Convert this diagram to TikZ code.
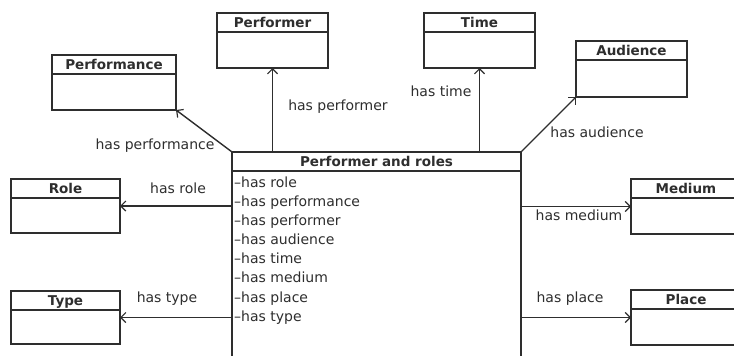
\documentclass[tikz,border=0pt]{standalone}
\usepackage{fontspec}
\setmainfont{DejaVu Sans}
\usetikzlibrary{arrows.meta}

\colorlet{ink}{black!82}

\tikzset{
  classbox/.style={draw=ink, line width=1.3pt, rectangle, inner sep=0pt, outer sep=0pt},
  classline/.style={draw=ink, line width=1.3pt},
  classtitle/.style={text=ink, inner sep=0pt, text height=10pt, text depth=0pt,
    font=\fontsize{13.5}{16}\selectfont\bfseries},
  attr/.style={text=ink, inner sep=0pt, anchor=west, text height=10.5pt, text depth=3pt,
    font=\fontsize{14}{16}\selectfont},
  edgelabel/.style={text=ink, inner sep=0pt, text height=10.5pt, text depth=3pt,
    font=\fontsize{14}{16}\selectfont},
  assoc/.style={draw=ink, line width=1.4pt, -{Straight Barb[length=5pt, width=10pt, line width=1.2pt]}},
}

% class box: name, left x, top y, width, height, title
\newcommand\umlclass[6]{%
  \node[classbox, minimum width=#4pt, minimum height=#5pt, anchor=north west] (#1) at (#2,#3) {};
  \draw[classline] ([yshift=-19pt]#1.north west) -- ([yshift=-19pt]#1.north east);
  \node[classtitle] at ([yshift=-9.5pt]#1.north) {#6};
}

\begin{document}
\begin{tikzpicture}[x=1pt, y=-1pt]
  \useasboundingbox (0,0) rectangle (734,356);
  \fill[white] (0,0) rectangle (734,356);
  \clip (0,0) rectangle (734,356);

  % surrounding classes
  \umlclass{performance}{52}{55}{124}{55}{Performance}
  \umlclass{performer}{217}{13}{111}{55}{Performer}
  \umlclass{time}{424}{13}{111}{55}{Time}
  \umlclass{audience}{576}{41}{111}{56}{Audience}
  \umlclass{role}{11}{179}{109}{54}{Role}
  \umlclass{type}{11}{291}{109}{53}{Type}
  \umlclass{medium}{631}{179}{110}{55}{Medium}
  \umlclass{place}{631}{290}{110}{55}{Place}

  % central class with its attributes
  \umlclass{main}{232}{152}{289}{212}{Performer and roles}
  \node[attr] (a1) at (234,184) {–has role};
  \node[attr] (a2) at (234,203) {–has performance};
  \node[attr] (a3) at (234,222) {–has performer};
  \node[attr] (a4) at (234,241) {–has audience};
  \node[attr] (a5) at (234,260) {–has time};
  \node[attr] (a6) at (234,279) {–has medium};
  \node[attr] (a7) at (234,299) {–has place};
  \node[attr] (a8) at (234,318) {–has type};

  % associations
  \draw[assoc] (main.north west) -- (performance.south east);
  \draw[assoc] (performer.south |- main.north) -- (performer.south);
  \draw[assoc] (time.south |- main.north) -- (time.south);
  \draw[assoc] (main.north east) -- (audience.south west);
  \draw[assoc] (main.west |- role.east) -- (role.east);
  \draw[assoc] (main.west |- type.east) -- (type.east);
  \draw[assoc] (main.east |- medium.west) -- (medium.west);
  \draw[assoc] (main.east |- place.west) -- (place.west);

  % association labels
  \node[edgelabel] (lperformance) at (155,146) {has performance};
  \node[edgelabel] (lperformer) at (338,107) {has performer};
  \node[edgelabel] (ltime) at (441,93) {has time};
  \node[edgelabel] (laudience) at (597,134) {has audience};
  \node[edgelabel] (lrole) at (178,190) {has role};
  \node[edgelabel] (ltype) at (167,299) {has type};
  \node[edgelabel] (lmedium) at (579,217) {has medium};
  \node[edgelabel] (lplace) at (570,299) {has place};
\end{tikzpicture}
\end{document}
